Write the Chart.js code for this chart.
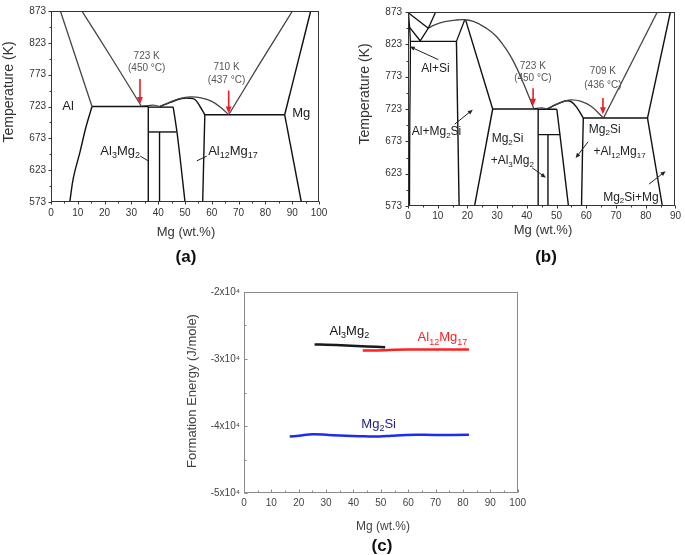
<!DOCTYPE html>
<html><head><meta charset="utf-8">
<script src="https://cdn.jsdelivr.net/npm/chart.js@4/dist/chart.umd.min.js"></script>
<style>
html,body{margin:0;padding:0;background:#fff;}
#wrap{position:relative;width:685px;height:555px;overflow:hidden;background:#fff;}
canvas{position:absolute;}
</style></head><body>
<div id="wrap">
<canvas id="ca" style="left:0;top:0;"></canvas>
<canvas id="cb" style="left:340px;top:0;"></canvas>
<canvas id="cc" style="left:170px;top:280px;"></canvas>
</div>
<script>
// ================= DATA =================
// ---- (a) Al–Mg phase diagram: boundary lines as [Mg wt.%, T(K)] ----
const aMgTicks = [0,10,20,30,40,50,60,70,80,90,100];
const aTempTicks = [573,623,673,723,773,823,873];
const aAlLiquidus   = [[3.5,873],[15.3,723]];
const aAlSolvus     = [[15.3,723],[13,690],[10.9,653],[8.4,612],[7,573]];
const aLiquidusLeft = [[11.5,873],[22.5,800],[33.8,723]];
const aEutectic723  = [[15.3,723],[36.3,723]];
const aAl3Mg2Dome   = [[34,723.5],[36.3,724.5],[38.6,725],[40.7,723]];
const aAl3Mg2Left   = [[36.3,723],[36.3,573]];
const aAl3Mg2Top    = [[36.3,722],[45.6,722]];
const aLine683      = [[36.3,683],[46.8,683]];
const aAl3Mg2Right  = [[40.5,683],[40.5,573]];
const aGammaLeft    = [[45.6,722],[47,683],[48.5,630],[50,573]];
const aLiquidusArc  = [[40.7,723],[45,731],[48,735.5],[52,738],[56,736.5],[60,731],[63.5,721],[66.3,710]];
const aGammaDome    = [[40.7,723],[44.5,729.5],[48.8,735.5],[51.5,736],[53.7,734],[55.6,723],[57.4,710]];
const aGammaRight   = [[57.4,710],[57.1,660],[56.6,573]];
const aEutectic710  = [[57.4,710],[87.2,710]];
const aMgLiquidus   = [[66.3,710],[78,791],[90.1,873]];
const aMgSolidus    = [[87.2,710],[96.9,873]];
const aMgSolvus     = [[87.2,710],[93.4,573]];
const aRedArrows    = [[33.2,766,727],[66.3,748,712]];           // x, T from, T to
const aLeaders      = [[33.3,645,36.3,637.6],[58.1,645,54.4,637.6]];
const aNotes = [
  ['723 K',35.7,802],['(450 °C)',35.7,783],
  ['710 K',65.5,784],['(437 °C)',65.5,764.4]
];
const aPhaseNames = [
  ['Al',6.4,723.7],['Mg',93.4,711.9],
  ['Al_{3}Mg_{2}',25.8,652.8],['Al_{12}Mg_{17}',67.9,652.8]
];

// ---- (b) Al–Mg–Si (Mg2Si) section ----
const bMgTicks = [0,10,20,30,40,50,60,70,80,90];
const bTempTicks = [573,623,673,723,773,823,873];
const bAlSolvus     = [[0.2,870],[0.8,827.6],[0.6,700],[0.5,573]];
const bTopLine1     = [[0.2,871.5],[6.85,848]];
const bTopLine2     = [[6.85,848],[9.3,873]];
const bVee          = [[0.2,851.2],[4.1,828.5],[6.85,848]];
const bLiquidusArc  = [[6.85,848],[9,853],[12.4,858],[16,860.5],[19.1,861],[22,858.5],[24.1,854],[27,846],[29.6,836],[32,822],[34,808.5],[36,792],[37.9,773],[40,750],[42.4,723]];
const bEutectic827  = [[0.8,827.6],[16.3,827.6]];
const bPeakLeft     = [[19.1,861],[16.3,827.6]];
const bSiVertical   = [[16.3,827.6],[17.2,573]];
const bPeakRight    = [[19.4,860.5],[28.5,723]];
const bMg2SiLeft    = [[28.5,723],[22.4,573]];
const bEutectic723  = [[28.5,723],[43.8,723]];
const bAl3Mg2Dome   = [[42.4,723.5],[44,724.5],[45.5,724.5],[46.8,723]];
const bAl3Mg2Left   = [[43.8,723],[43.8,573]];
const bAl3Mg2Top    = [[43.8,722.5],[50.1,722.5]];
const bLine683      = [[43.8,683.4],[51.2,683.4]];
const bAl3Mg2Right  = [[47.1,683.4],[47.1,573]];
const bGammaLeft    = [[50.1,722.5],[52,650],[54,573]];
const bLiquidusArc2 = [[46.8,723],[50,730.5],[53,735.5],[55.1,737],[58,735],[61.5,727.5],[65.8,709]];
const bGammaDome    = [[46.8,723],[50,730],[52.9,735.4],[55,734],[57,724],[59,709]];
const bGammaRight   = [[59,709],[58.7,650],[58.4,573]];
const bEutectic709  = [[59,709],[80.6,709]];
const bMgLiquidus   = [[65.8,709],[83.9,873]];
const bMgSolidus    = [[80.6,709],[88.3,873]];
const bMgSolvus     = [[80.6,709],[85.6,573]];
const bRedArrows    = [[42.1,755,728],[65.6,740,715]];
const bLeaders      = [[10.2,799.4,0.6,819.5],[15.7,699.5,21.8,722],[41.8,632,46.4,616.8],[60.6,672.3,56.4,647.1],[81.1,606.8,86.7,626.9]];
const bNotes = [
  ['723 K',42.0,789.8],['(450 °C)',42.0,770.6],
  ['709 K',65.6,780.8],['(436 °C)',65.6,760.5]
];
const bPhaseNames = [
  ['Al+Si',9.25,785.8],['Al+Mg_{2}Si',9.6,687.5],
  ['Mg_{2}Si',33.5,676.4],['+Al_{3}Mg_{2}',35.1,643.1],
  ['Mg_{2}Si',66.2,691.5],['+Al_{12}Mg_{17}',71.2,657.2],
  ['Mg_{2}Si+Mg',75.0,586.6]
];

// ---- (c) formation energy ----
const cMgTicks = [0,10,20,30,40,50,60,70,80,90,100];
const cEnergyTicks = [-50000,-40000,-30000,-20000];
const cEnergyTickLabels = ['-5x10⁴','-4x10⁴','-3x10⁴','-2x10⁴'];
const cAl3Mg2X   = [25.8,30,37.3,45,51.6];
const cAl3Mg2E   = [-27830,-27880,-27980,-28120,-28230];
const cAl12Mg17X = [43.4,47,51,55,60,70,82.2];
const cAl12Mg17E = [-28720,-28740,-28700,-28620,-28580,-28570,-28570];
const cMg2SiX    = [16.7,20,25.2,31,37.3,44,49.5,54,59.2,70,82.2];
const cMg2SiE    = [-41580,-41450,-41220,-41350,-41470,-41540,-41580,-41450,-41330,-41330,-41320];
const cSeriesNames = [
  ['Al_{3}Mg_{2}',38.5,-25850,'#111'],
  ['Al_{12}Mg_{17}',72.5,-26850,'#ff2020'],
  ['Mg_{2}Si',49.2,-39730,'#23238f']
];

// ================= HELPERS =================
const FAM = '"Liberation Sans", Arial, Helvetica, sans-serif';
Chart.defaults.font.family = FAM;

function parseRich(s){
  const out=[]; const re=/([_^])\{([^}]*)\}|([^_^]+)/g; let m;
  while((m=re.exec(s))){ if(m[3]) out.push({t:m[3],k:0}); else out.push({t:m[2],k:m[1]==='_'?1:2}); }
  return out;
}
function drawRich(ctx,s,x,y,size,color,weight,align){
  const segs=parseRich(s);
  const f=k=>(weight||'normal')+' '+Math.round(k?size*0.68:size)+'px '+FAM;
  let w=0; segs.forEach(g=>{ctx.font=f(g.k); g.w=ctx.measureText(g.t).width; w+=g.w;});
  let cx = align==='left'?x:(align==='right'?x-w:x-w/2);
  ctx.fillStyle=color; ctx.textBaseline='middle'; ctx.textAlign='left';
  segs.forEach(g=>{ctx.font=f(g.k); const dy=g.k===1?size*0.32:(g.k===2?-size*0.38:0); ctx.fillText(g.t,cx,y+dy); cx+=g.w;});
}
function arrow(ctx,x1,y1,x2,y2,color,width,hl){
  ctx.save();
  ctx.strokeStyle=color; ctx.fillStyle=color; ctx.lineWidth=width;
  const ang=Math.atan2(y2-y1,x2-x1), hw=hl*0.42;
  ctx.beginPath(); ctx.moveTo(x1,y1);
  ctx.lineTo(x2-Math.cos(ang)*hl*0.7, y2-Math.sin(ang)*hl*0.7); ctx.stroke();
  if(hl){
    ctx.beginPath(); ctx.moveTo(x2,y2);
    ctx.lineTo(x2-hl*Math.cos(ang)+hw*Math.sin(ang), y2-hl*Math.sin(ang)-hw*Math.cos(ang));
    ctx.lineTo(x2-hl*Math.cos(ang)-hw*Math.sin(ang), y2-hl*Math.sin(ang)+hw*Math.cos(ang));
    ctx.closePath(); ctx.fill();
  }
  ctx.restore();
}
function makeDecor(cfg){
  return {
    id:'decor',
    afterDatasetsDraw(chart){
      const ctx=chart.ctx, ca=chart.chartArea, xs=chart.scales.x, ys=chart.scales.y;
      const X=v=>xs.getPixelForValue(v), Y=v=>ys.getPixelForValue(v);
      ctx.save();
      ctx.strokeStyle=cfg.frameColor; ctx.lineWidth=1;
      ctx.strokeRect(Math.round(ca.left)+0.5,Math.round(ca.top)+0.5,Math.round(ca.right-ca.left)-1,Math.round(ca.bottom-ca.top)-1);
      const d=cfg.tickDir, b=Math.round(ca.bottom)-0.5, l=Math.round(ca.left)+0.5;
      ctx.beginPath();
      const tx=(v,len)=>{const p=Math.round(X(v))+0.5; ctx.moveTo(p,b); ctx.lineTo(p,b+d*len);};
      const ty=(v,len)=>{const p=Math.round(Y(v))+0.5; ctx.moveTo(l,p); ctx.lineTo(l-d*len,p);};
      cfg.xTicks.forEach((v,i,a)=>{tx(v,cfg.major); if(i<a.length-1) tx((v+a[i+1])/2,cfg.minor);});
      cfg.yTicks.forEach((v,i,a)=>{ty(v,cfg.major); if(i<a.length-1) ty((v+a[i+1])/2,cfg.minor);});
      ctx.stroke();
      (cfg.redArrows||[]).forEach(r=>arrow(ctx,X(r[0]),Y(r[1]),X(r[0]),Y(r[2]),'#ee1c24',1.6,7));
      (cfg.leaders||[]).forEach(r=>arrow(ctx,X(r[0]),Y(r[1]),X(r[2]),Y(r[3]),'#222',1,cfg.leaderHead||0));
      (cfg.notes||[]).forEach(n=>drawRich(ctx,n[0],X(n[1]),Y(n[2]),cfg.noteSize,'#555'));
      (cfg.names||[]).forEach(n=>drawRich(ctx,n[0],X(n[1]),Y(n[2]),cfg.nameSize,n[3]||'#222'));
      (cfg.titles||[]).forEach(t=>{
        ctx.save(); ctx.translate(t.x,t.y); if(t.rot) ctx.rotate(t.rot);
        drawRich(ctx,t.text,0,0,t.size,t.color||'#333',t.bold?'bold':'normal'); ctx.restore();
      });
      ctx.restore();
    }
  };
}
function seg(points,color,width,tension){
  return {data:points.map(p=>({x:p[0],y:p[1]})),showLine:true,pointRadius:0,pointHoverRadius:0,
          borderColor:color,borderWidth:width,tension:tension||0,fill:false};
}
function xy(xs,ys){ return xs.map((x,i)=>[x,ys[i]]); }

function build(id,W,H,box,xr,yr,xTicks,yTicks,yLabelFn,tickCfg,datasets,decor){
  const cv=document.getElementById(id);
  cv.width=W; cv.height=H; cv.style.width=W+'px'; cv.style.height=H+'px';
  return new Chart(cv,{
    type:'scatter',
    data:{datasets},
    options:{
      responsive:false, animation:false, devicePixelRatio:1,
      layout:{padding:{left:0,right:W-box.right,top:box.top,bottom:0}},
      plugins:{legend:{display:false},tooltip:{enabled:false}},
      scales:{
        x:{type:'linear',min:xr[0],max:xr[1],
           afterBuildTicks:s=>{s.ticks=xTicks.map(v=>({value:v}));},
           afterFit:s=>{s.height=H-box.bottom;},
           ticks:{autoSkip:false,maxRotation:0,padding:tickCfg.xPad,color:tickCfg.color,font:{size:tickCfg.size},callback:v=>String(v)},
           grid:{display:false,drawTicks:false},border:{display:false}},
        y:{type:'linear',min:yr[0],max:yr[1],
           afterBuildTicks:s=>{s.ticks=yTicks.map(v=>({value:v}));},
           afterFit:s=>{s.width=box.left;},
           ticks:{autoSkip:false,padding:tickCfg.yPad,color:tickCfg.color,font:{size:tickCfg.size},callback:yLabelFn},
           grid:{display:false,drawTicks:false},border:{display:false}}
      }
    },
    plugins:[makeDecor(decor)]
  });
}

// ================= (a) =================
const LQ='#444', SD='#111';
build('ca',340,280,{left:51,right:319,top:7,bottom:202},[0,100],[573,873],aMgTicks,aTempTicks,v=>String(v),
  {xPad:5,yPad:5,color:'#333',size:10},
  [seg(aAlLiquidus,LQ,1.3),seg(aAlSolvus,SD,1.4,0.4),seg(aLiquidusLeft,LQ,1.3,0.3),seg(aEutectic723,SD,1.4),
   seg(aAl3Mg2Dome,LQ,1.2,0.4),seg(aAl3Mg2Left,SD,1.4),seg(aAl3Mg2Top,SD,1.4),seg(aLine683,SD,1.4),
   seg(aAl3Mg2Right,SD,1.4),seg(aGammaLeft,SD,1.4,0.3),seg(aLiquidusArc,LQ,1.3,0.4),seg(aGammaDome,SD,1.4,0.4),
   seg(aGammaRight,SD,1.4,0.2),seg(aEutectic710,SD,1.4),seg(aMgLiquidus,LQ,1.3,0.3),seg(aMgSolidus,SD,1.4),seg(aMgSolvus,SD,1.4)],
  {frameColor:'#333',tickDir:1,major:3,minor:2,xTicks:aMgTicks,yTicks:aTempTicks,
   redArrows:aRedArrows,leaders:aLeaders,leaderHead:0,notes:aNotes,noteSize:10,names:aPhaseNames,nameSize:13,
   titles:[{text:'Temperature (K)',x:9,y:92,rot:-Math.PI/2,size:14},
           {text:'Mg (wt.%)',x:186,y:232,size:13},
           {text:'(a)',x:186,y:257,size:17,bold:true,color:'#111'}]});

// ================= (b) =================
build('cb',345,280,{left:68,right:338,top:7,bottom:206},[0,90],[573,873],bMgTicks,bTempTicks,v=>String(v),
  {xPad:4,yPad:6,color:'#333',size:10},
  [seg(bAlSolvus,SD,1.3,0.2),seg(bTopLine1,SD,1.3),seg(bTopLine2,SD,1.3),seg(bVee,SD,1.3),
   seg(bLiquidusArc,LQ,1.3,0.4),seg(bEutectic827,SD,1.4),seg(bPeakLeft,SD,1.3),seg(bSiVertical,SD,1.4),
   seg(bPeakRight,SD,1.4),seg(bMg2SiLeft,SD,1.4),seg(bEutectic723,SD,1.4),seg(bAl3Mg2Dome,LQ,1.2,0.4),
   seg(bAl3Mg2Left,SD,1.4),seg(bAl3Mg2Top,SD,1.4),seg(bLine683,SD,1.4),seg(bAl3Mg2Right,SD,1.4),
   seg(bGammaLeft,SD,1.4,0.2),seg(bLiquidusArc2,LQ,1.3,0.4),seg(bGammaDome,SD,1.4,0.4),seg(bGammaRight,SD,1.4,0.2),
   seg(bEutectic709,SD,1.4),seg(bMgLiquidus,LQ,1.3),seg(bMgSolidus,SD,1.4),seg(bMgSolvus,SD,1.4)],
  {frameColor:'#333',tickDir:1,major:3,minor:2,xTicks:bMgTicks,yTicks:bTempTicks,
   redArrows:bRedArrows,leaders:bLeaders,leaderHead:5,notes:bNotes,noteSize:10,names:bPhaseNames,nameSize:12,
   titles:[{text:'Temperature (K)',x:25,y:94,rot:-Math.PI/2,size:14},
           {text:'Mg (wt.%)',x:203,y:230,size:13},
           {text:'(b)',x:206,y:257,size:17,bold:true,color:'#111'}]});

// ================= (c) =================
build('cc',360,275,{left:74,right:349,top:12,bottom:213},[0,100],[-50000,-20000],cMgTicks,cEnergyTicks,
  v=>cEnergyTickLabels[cEnergyTicks.indexOf(v)],
  {xPad:4,yPad:4,color:'#444',size:10},
  [seg(xy(cAl3Mg2X,cAl3Mg2E),'#1a1a1a',2.5,0.4),
   seg(xy(cAl12Mg17X,cAl12Mg17E),'#ff1f1f',2.5,0.4),
   seg(xy(cMg2SiX,cMg2SiE),'#1e2cf0',2.5,0.4)],
  {frameColor:'#8a8a8a',tickDir:-1,major:3,minor:2,xTicks:cMgTicks,yTicks:cEnergyTicks,
   names:cSeriesNames,nameSize:13,
   titles:[{text:'Formation Energy (J/mole)',x:22,y:111,rot:-Math.PI/2,size:13,color:'#444'},
           {text:'Mg (wt.%)',x:213,y:247,size:12,color:'#444'},
           {text:'(c)',x:212,y:266,size:17,bold:true,color:'#111'}]});
</script>
</body></html>
